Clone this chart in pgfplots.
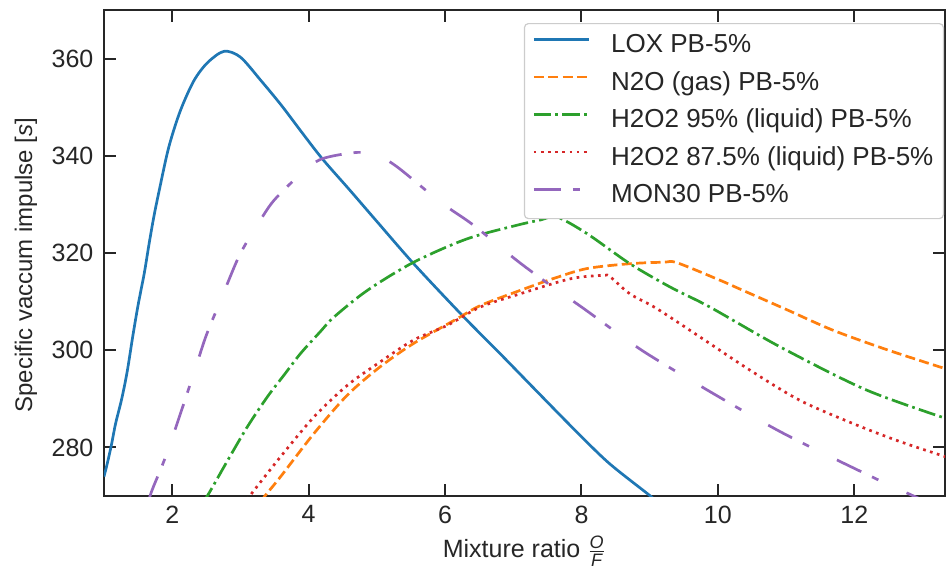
\documentclass[border=0pt]{standalone}
\usepackage{fontspec}
\setmainfont{Liberation Sans}
\usepackage{pgfplots}
\pgfplotsset{compat=1.18}

\definecolor{c1}{HTML}{1F77B4}
\definecolor{c2}{HTML}{FF7F0E}
\definecolor{c3}{HTML}{2CA02C}
\definecolor{c4}{HTML}{D62728}
\definecolor{c5}{HTML}{9467BD}
\definecolor{ink}{HTML}{262626}

\begin{document}
\begin{tikzpicture}
\useasboundingbox (-52pt,-36.5pt) rectangle (421.5pt,248pt);
\begin{axis}[
    at={(0,0)}, anchor=south west,
    scale only axis,
    width=420.5pt, height=243pt,
    xmin=1, xmax=13.33,
    ymin=270, ymax=370,
    xtick={2,4,...,12},
    ytick={280,300,...,360},
    tick align=inside,
    major tick length=6pt,
    every tick/.style={ink, line width=1pt},
    axis line style={ink, line width=1.3pt},
    font=\fontsize{12.5}{15}\selectfont,
    /pgf/number format/assume math mode=true,
    tick label style={ink},
    yticklabel style={xshift=-1.8pt},
    xticklabel style={yshift=-1.3pt},
    xlabel={Mixture ratio $\frac{\mbox{\fontsize{9}{9}\selectfont\itshape O}}{\mbox{\fontsize{9}{9}\selectfont\itshape F}}$},
    ylabel={Specific vaccum impulse [\textit{s}]},
    xlabel style={at={(axis description cs:0.5,0)}, anchor=center, yshift=-27.5pt, ink},
    ylabel style={at={(axis description cs:-0.0927,0.475)}, rotate=0, anchor=center, ink,
        font=\fontsize{12}{14}\selectfont},
    legend style={at={(1,1)}, anchor=north east, xshift=-0.5pt, yshift=-6.5pt,
        draw=black!20, line width=0.6pt, rounded corners=2pt, fill=white,
        font=\fontsize{13}{15}\selectfont, text=ink,
        inner xsep=4pt, inner ysep=5pt,
        nodes={inner xsep=1pt, inner ysep=0pt, text height=9.5pt, text depth=3pt},
        row sep=6.25pt,
        /tikz/every odd column/.append style={column sep=9.5pt}},
    legend cell align=left,
    legend image code/.code={\draw[#1] (0pt,3.25pt) -- (27.5pt,3.25pt);},
    every axis plot/.append style={line width=1.35pt, line join=round},
]
% LOX PB-5%
\addplot[c1, smooth] coordinates {
(1.00,274.0) (1.05,276.8) (1.11,280.6) (1.17,284.9) (1.26,290.0) (1.34,295.6)
(1.42,302.7) (1.50,309.3) (1.59,315.8) (1.66,321.8) (1.73,327.4) (1.81,332.9)
(1.95,341.8) (2.12,349.3) (2.32,355.5) (2.52,359.2) (2.76,361.5) (3.00,360.3)
(3.30,355.5) (3.60,350.4) (3.88,345.2) (4.20,339.4) (4.60,333.0) (5.00,326.5)
(5.54,317.8) (6.25,307.2) (6.80,299.4) (7.30,292.2) (7.88,283.9) (8.40,276.8)
(9.01,270.0) (9.20,267.6)};
% N2O (gas) PB-5%
\addplot[c2, dash pattern=on 5pt off 2.2pt, smooth] coordinates {
(3.30,268.8) (3.37,270.2) (3.59,274.0) (4.08,282.9) (4.57,290.8) (5.05,296.6)
(5.54,301.4) (6.18,306.5) (6.52,309.2) (7.10,312.3) (7.60,314.8) (8.08,316.8)
(8.71,317.8) (9.20,318.1) (9.40,318.0) (10.03,314.4) (10.32,312.6) (11.00,308.4)
(11.69,304.1) (12.50,300.0) (13.40,295.9)};
% H2O2 95% (liquid) PB-5%
\addplot[c3, dash pattern=on 8.64pt off 2.16pt on 1.35pt off 2.16pt, smooth] coordinates {
(2.45,268.6) (2.54,270.6) (2.80,277.0) (3.10,284.2) (3.40,290.5) (3.64,294.9)
(3.88,299.3) (4.17,303.8) (4.37,306.8) (4.86,312.3) (5.54,318.1) (6.32,322.9)
(7.05,325.7) (7.40,326.8) (7.64,327.4) (8.08,324.0) (8.71,317.8) (9.30,313.0)
(9.88,308.9) (10.91,300.7) (12.18,291.8) (13.40,285.7)};
% H2O2 87.5% (liquid) PB-5%
\addplot[c4, dash pattern=on 1.35pt off 2.23pt, smooth] coordinates {
(3.10,269.2) (3.18,270.8) (3.59,278.1) (4.08,286.3) (4.57,292.8) (5.05,297.6)
(5.54,302.1) (6.03,305.1) (6.52,308.9) (7.10,311.6) (7.84,314.7) (8.32,315.4)
(8.42,315.1) (8.71,311.6) (9.10,308.6) (9.74,302.7) (10.47,295.9) (11.20,289.7)
(12.00,284.8) (12.67,281.2) (13.40,277.8)};
% MON30 PB-5%
\addplot[c5, dash pattern=on 13.5pt off 6pt on 3.5pt off 15.5pt, smooth] coordinates {
(1.65,268.8) (1.71,271.4) (1.93,279.1) (2.30,294.5) (2.49,302.7) (2.69,309.6)
(2.93,317.8) (3.05,321.2) (3.25,325.8) (3.49,330.8) (3.91,336.6) (4.20,339.4)
(4.71,340.7) (5.00,340.1) (5.30,337.7) (5.93,330.5) (6.42,325.7) (7.05,318.5)
(7.54,313.4) (8.03,308.6) (8.47,304.1) (8.96,299.3) (9.93,291.1) (10.96,282.9)
(12.25,274.0) (12.87,270.0) (13.00,269.2)};
\legend{LOX PB-5\%, N2O (gas) PB-5\%, H2O2 95\% (liquid) PB-5\%, H2O2 87.5\% (liquid) PB-5\%, MON30 PB-5\%}
\end{axis}
\end{tikzpicture}
\end{document}
